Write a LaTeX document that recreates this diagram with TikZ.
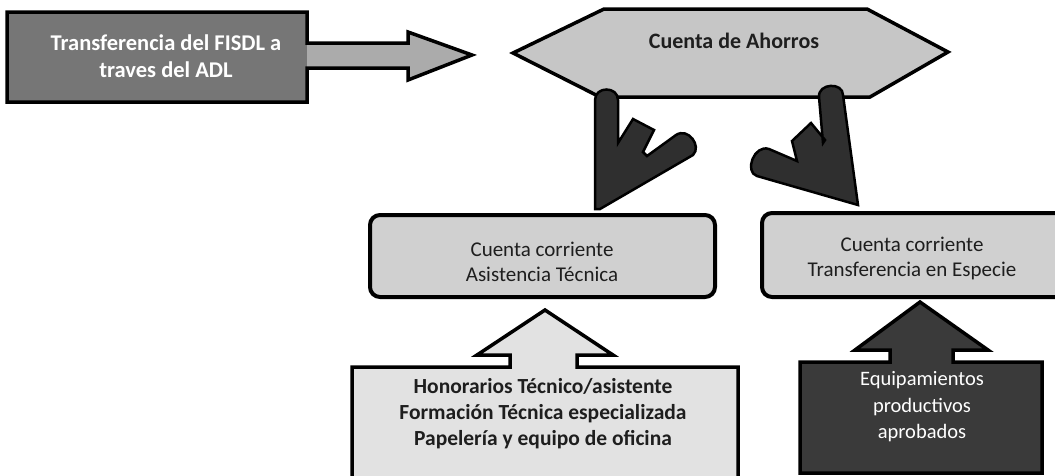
\documentclass[tikz,border=0pt]{standalone}
\usepackage{fontspec}
\setmainfont{Carlito}
\definecolor{boxdark}{HTML}{767676}
\definecolor{arrowlight}{HTML}{ABABAB}
\definecolor{hexfill}{HTML}{C6C6C6}
\definecolor{boxfill}{HTML}{D0D0D0}
\definecolor{calloutlight}{HTML}{E2E2E2}
\definecolor{calloutdark}{HTML}{3A3A3A}
\definecolor{darkarrow}{HTML}{2F2F2F}
\definecolor{inktext}{HTML}{1E1E1E}
\tikzset{
  outline/.style={draw=black, line width=3.5pt, line join=miter},
  accbox/.style={draw=black, line width=4pt, rounded corners=10pt, fill=boxfill},
  boldtext/.style={align=center, font=\fontsize{22.5}{27}\selectfont\bfseries, inner sep=0pt},
  plaintext/.style={align=center, font=\fontsize{21}{25}\selectfont, inner sep=0pt}
}
\begin{document}
\begin{tikzpicture}[x=1pt,y=-1pt]
\useasboundingbox (0,0) rectangle (1055,475);
\clip (0,0) rectangle (1055,475);

% top-left arrow callout
\fill[arrowlight] (7,12) -- (307,12) -- (307,43) -- (408,43) -- (408,32) -- (472,55) -- (408,80) -- (408,68) -- (307,68) -- (307,102) -- (7,102) -- cycle;
\fill[boxdark] (7,12) rectangle (307,102);
\draw[outline] (7,12) -- (307,12) -- (307,43) -- (408,43) -- (408,32) -- (472,55) -- (408,80) -- (408,68) -- (307,68) -- (307,102) -- (7,102) -- cycle;
\node[boldtext, text=white] (fisdl) at (166,56) {Transferencia del FISDL a\\traves del ADL};

% hexagon
\draw[outline, fill=hexfill] (513,53) -- (604,9) -- (867,9) -- (948,52) -- (870,97) -- (600,97) -- cycle;
\node[boldtext, text=inktext, font=\fontsize{22}{27}\selectfont\bfseries] (ahorros) at (734,41) {Cuenta de Ahorros};

% dark bent arrows
\draw[outline, line width=2.5pt, fill=darkarrow]
  (595,100) .. controls (595,86) and (618,86) .. (618,100)
  -- (618,143) -- (633,119) -- (654,130) -- (643,152) -- (647,156) -- (676,135)
  .. controls (688,127) and (702,146) .. (693,155)
  -- (600,209) -- (595,209) -- cycle;
\draw[outline, line width=2.5pt, fill=darkarrow]
  (819,97) .. controls (818,83) and (843,82) .. (843,95)
  -- (858,205) -- (757,176)
  .. controls (744,172) and (754,144) .. (769,149)
  -- (797,161) -- (792,141) -- (811,123) -- (825,140) -- (823,143) -- cycle;

% account boxes
\draw[accbox] (370,215) rectangle (715,297);
\node[plaintext, text=inktext] (asist) at (542,262) {Cuenta corriente\\Asistencia Técnica};
\draw[accbox] (762,213) rectangle (1070,297);
\node[plaintext, text=inktext] (especie) at (912,258) {Cuenta corriente\\Transferencia en Especie};

% bottom-left up-arrow callout
\draw[outline, fill=calloutlight] (352,367) -- (510,367) -- (510,355) -- (477,355) -- (545,310) -- (613,355) -- (577,355) -- (577,367) -- (738,367) -- (738,485) -- (352,485) -- cycle;
\node[boldtext, text=inktext, font=\fontsize{21.5}{26}\selectfont\bfseries] (honor) at (543,414) {Honorarios Técnico/asistente\\Formación Técnica especializada\\Papelería y equipo de oficina};

% bottom-right up-arrow callout
\draw[outline, fill=calloutdark] (800,362) -- (890,362) -- (890,350) -- (855,350) -- (920,302) -- (988,350) -- (953,350) -- (953,362) -- (1042,362) -- (1042,473) -- (800,473) -- cycle;
\node[plaintext, text=white, font=\fontsize{20.5}{26.5}\selectfont] (equip) at (922,407) {Equipamientos\\productivos\\aprobados};
\end{tikzpicture}
\end{document}
